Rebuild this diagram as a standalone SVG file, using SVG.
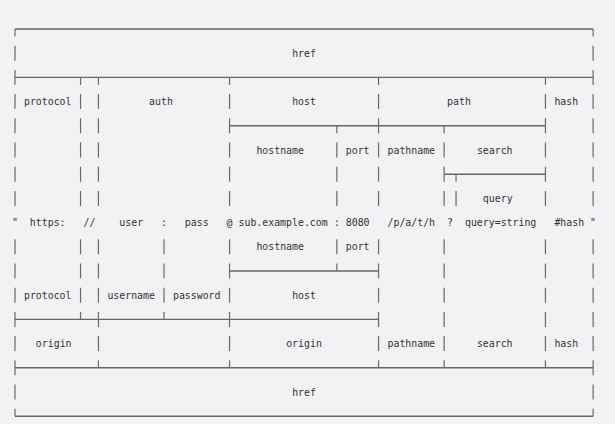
<svg xmlns="http://www.w3.org/2000/svg" width="615" height="424" viewBox="0 0 615 424">
<style>
.ln{fill:none;stroke:#6a6a6a;stroke-width:1.2}
.hl{fill:none;stroke:#666;stroke-width:1.4}
text{font-family:"DejaVu Sans Mono","Liberation Mono",monospace;font-size:9.9px;fill:#333;white-space:pre}
</style>
<rect width="615" height="424" fill="#f2f1f4"/>
<g id="connectors">
<path class="hl" d="M15,29H593.12 M15,77.4H593.12 M229.56,125.8H545.44 M444.12,174.2H545.44 M229.56,271H378.56 M15,319.4H378.56 M15,367.8H593.12 M15,416.2H593.12"/>
<path class="ln" d="M15,29v7.5 M15,45.7v15 M15,69.9v15 M15,94.1v15 M15,118.3v15 M15,142.5v15 M15,166.7v15 M15,190.9v15 M15,239.3v15 M15,263.5v15 M15,287.7v15 M15,311.9v15 M15,336.1v15 M15,360.3v15 M15,384.5v15 M15,408.7v7.5"/>
<path class="ln" d="M593.12,29v7.5 M593.12,45.7v15 M593.12,69.9v15 M593.12,94.1v15 M593.12,118.3v15 M593.12,142.5v15 M593.12,166.7v15 M593.12,190.9v15 M593.12,239.3v15 M593.12,263.5v15 M593.12,287.7v15 M593.12,311.9v15 M593.12,336.1v15 M593.12,360.3v15 M593.12,384.5v15 M593.12,408.7v7.5"/>
<path class="ln" d="M80.56,77.4v7.5 M80.56,94.1v15 M80.56,118.3v15 M80.56,142.5v15 M80.56,166.7v15 M80.56,190.9v15 M80.56,239.3v15 M80.56,263.5v15 M80.56,287.7v15 M80.56,311.9v7.5"/>
<path class="ln" d="M98.44,77.4v7.5 M98.44,94.1v15 M98.44,118.3v15 M98.44,142.5v15 M98.44,166.7v15 M98.44,190.9v15 M98.44,239.3v15 M98.44,263.5v15 M98.44,287.7v15 M98.44,311.9v15 M98.44,336.1v15 M98.44,360.3v7.5"/>
<path class="ln" d="M164,239.3v15 M164,263.5v15 M164,287.7v15 M164,311.9v7.5"/>
<path class="ln" d="M229.56,77.4v7.5 M229.56,94.1v15 M229.56,118.3v15 M229.56,142.5v15 M229.56,166.7v15 M229.56,190.9v15 M229.56,239.3v15 M229.56,263.5v15 M229.56,287.7v15 M229.56,311.9v15 M229.56,336.1v15 M229.56,360.3v7.5"/>
<path class="ln" d="M336.84,125.8v7.5 M336.84,142.5v15 M336.84,166.7v15 M336.84,190.9v15 M336.84,239.3v15 M336.84,263.5v7.5"/>
<path class="ln" d="M378.56,77.4v7.5 M378.56,94.1v15 M378.56,118.3v15 M378.56,142.5v15 M378.56,166.7v15 M378.56,190.9v15 M378.56,239.3v15 M378.56,263.5v15 M378.56,287.7v15 M378.56,311.9v15 M378.56,336.1v15 M378.56,360.3v7.5"/>
<path class="ln" d="M444.12,125.8v7.5 M444.12,142.5v15 M444.12,166.7v15 M444.12,190.9v15 M444.12,239.3v15 M444.12,263.5v15 M444.12,287.7v15 M444.12,311.9v15 M444.12,336.1v15 M444.12,360.3v7.5"/>
<path class="ln" d="M456.04,174.2v7.5 M456.04,190.9v15"/>
<path class="ln" d="M545.44,77.4v7.5 M545.44,94.1v15 M545.44,118.3v15 M545.44,142.5v15 M545.44,166.7v15 M545.44,190.9v15 M545.44,239.3v15 M545.44,263.5v15 M545.44,287.7v15 M545.44,311.9v15 M545.44,336.1v15 M545.44,360.3v7.5"/>
</g>
<g id="href-top"><text x="292.14" y="56.7">href</text></g>
<g id="row-parts">
<text x="23.94" y="105.1">protocol</text>
<text x="149.1" y="105.1">auth</text>
<text x="292.14" y="105.1">host</text>
<text x="447.1" y="105.1">path</text>
<text x="554.38" y="105.1">hash</text>
</g>
<g id="row-sub">
<text x="256.38" y="153.5">hostname</text>
<text x="345.78" y="153.5">port</text>
<text x="387.5" y="153.5">pathname</text>
<text x="476.9" y="153.5">search</text>
<text x="482.86" y="201.9">query</text>
</g>
<g id="url">
<text x="12.02" y="226.1" xml:space="preserve">"  https:</text>
<text x="83.54" y="226.1">//</text>
<text x="119.3" y="226.1">user</text>
<text x="161.02" y="226.1">:</text>
<text x="184.86" y="226.1">pass</text>
<text x="226.58" y="226.1">@</text>
<text x="238.5" y="226.1">sub.example.com</text>
<text x="333.86" y="226.1">:</text>
<text x="345.78" y="226.1">8080</text>
<text x="387.5" y="226.1">/p/a/t/h</text>
<text x="447.1" y="226.1">?</text>
<text x="464.98" y="226.1">query=string</text>
<text x="554.38" y="226.1" xml:space="preserve">#hash "</text>
</g>
<g id="row-whatwg">
<text x="256.38" y="250.3">hostname</text>
<text x="345.78" y="250.3">port</text>
<text x="23.94" y="298.7">protocol</text>
<text x="107.38" y="298.7">username</text>
<text x="172.94" y="298.7">password</text>
<text x="292.14" y="298.7">host</text>
</g>
<g id="row-origin">
<text x="35.86" y="347.1">origin</text>
<text x="286.18" y="347.1">origin</text>
<text x="387.5" y="347.1">pathname</text>
<text x="476.9" y="347.1">search</text>
<text x="554.38" y="347.1">hash</text>
</g>
<g id="href-bottom"><text x="292.14" y="395.5">href</text></g>
</svg>
